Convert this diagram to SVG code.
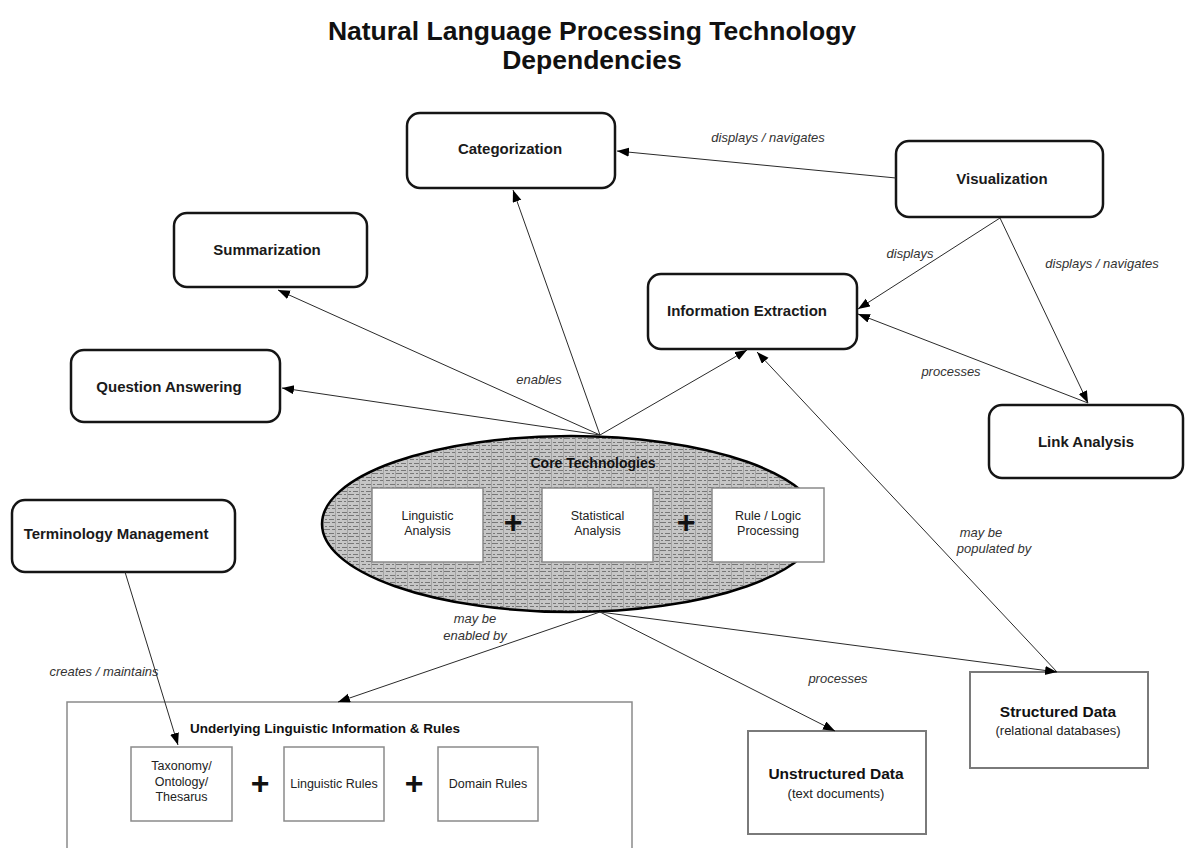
<svg xmlns="http://www.w3.org/2000/svg" width="1185" height="848" viewBox="0 0 1185 848">
<style>
.title{font-family:"Liberation Sans",Arial,sans-serif;font-weight:bold;font-size:26.5px;fill:#111;text-anchor:middle}
.node{fill:#fff;stroke:#151515;stroke-width:2.5}
.nl{font-family:"Liberation Sans",Arial,sans-serif;font-weight:bold;font-size:15px;fill:#1a1a1a;text-anchor:middle}
.box{fill:#fff;stroke:#7a7a7a;stroke-width:2}
.ibox{fill:#fff;stroke:#8a8a8a;stroke-width:1.5}
.it{font-family:"Liberation Sans",Arial,sans-serif;font-size:12.5px;fill:#222;text-anchor:middle}
.lbl{font-family:"Liberation Sans",Arial,sans-serif;font-style:italic;font-size:13px;fill:#333;text-anchor:middle}
.big{font-family:"Liberation Sans",Arial,sans-serif;font-weight:bold;font-size:15.5px;fill:#111;text-anchor:middle}
.sub{font-family:"Liberation Sans",Arial,sans-serif;font-size:13px;fill:#222;text-anchor:middle}
.plus{font-family:"Liberation Sans",Arial,sans-serif;font-weight:bold;font-size:32px;fill:#111;text-anchor:middle}
.conn path{fill:none;stroke:#2a2a2a;stroke-width:1;marker-end:url(#ah)}
</style>
<defs>
<marker id="ah" markerUnits="userSpaceOnUse" markerWidth="13" markerHeight="10" refX="12" refY="4.5" orient="auto">
<path d="M0,0 L12,4.5 L0,9 z" fill="#000"/>
</marker>
<pattern id="tex" width="24" height="7" patternUnits="userSpaceOnUse">
<rect width="24" height="7" fill="#c6c6c6"/>
<path d="M1,1.5h3M6,1.5h5M13,1.5h2M17,1.5h5M2,4.5h4M8,4.5h2M12,4.5h6M20,4.5h3" stroke="#777" stroke-width="1"/>
<path d="M11.5,0v7M23.5,0v7" stroke="#a4a4a4" stroke-width="1"/>
</pattern>
</defs>
<rect width="1185" height="848" fill="#fff"/>
<g id="title">
<text class="title" x="592" y="40">Natural Language Processing Technology</text>
<text class="title" x="592" y="69">Dependencies</text>
</g>
<g id="core">
<ellipse cx="571" cy="524" rx="249" ry="88" fill="url(#tex)" stroke="#000" stroke-width="2.5"/>
<text x="593" y="468" font-family="Liberation Sans, Arial, sans-serif" font-weight="bold" font-size="14px" fill="#111" text-anchor="middle">Core Technologies</text>
<rect class="ibox" x="372" y="488" width="111" height="74"/>
<text class="it" x="427.5" y="520">Linguistic</text>
<text class="it" x="427.5" y="535">Analysis</text>
<text class="plus" x="513" y="533">+</text>
<rect class="ibox" x="542" y="488" width="111" height="74"/>
<text class="it" x="597.5" y="520">Statistical</text>
<text class="it" x="597.5" y="535">Analysis</text>
<text class="plus" x="686" y="533">+</text>
<rect class="ibox" x="712" y="488" width="112" height="74"/>
<text class="it" x="768" y="520">Rule / Logic</text>
<text class="it" x="768" y="535">Processing</text>
</g>
<g id="categorization"><rect class="node" x="407" y="113" width="208" height="75" rx="13"/><text class="nl" x="510" y="154">Categorization</text></g>
<g id="visualization"><rect class="node" x="896" y="141" width="207" height="76" rx="13"/><text class="nl" x="1002" y="184">Visualization</text></g>
<g id="summarization"><rect class="node" x="174" y="213" width="193" height="74" rx="13"/><text class="nl" x="267" y="255">Summarization</text></g>
<g id="question-answering"><rect class="node" x="71" y="350" width="209" height="72" rx="13"/><text class="nl" x="169" y="392">Question Answering</text></g>
<g id="information-extraction"><rect class="node" x="648" y="274" width="209" height="75" rx="13"/><text class="nl" x="747" y="316">Information Extraction</text></g>
<g id="link-analysis"><rect class="node" x="989" y="405" width="194" height="73" rx="13"/><text class="nl" x="1086" y="447">Link Analysis</text></g>
<g id="terminology-management"><rect class="node" x="12" y="500" width="223" height="72" rx="13"/><text class="nl" x="116" y="539">Terminology Management</text></g>
<g id="underlying">
<rect x="67" y="702" width="565" height="170" fill="#fff" stroke="#8a8a8a" stroke-width="1.5"/>
<text x="325" y="733" font-family="Liberation Sans, Arial, sans-serif" font-weight="bold" font-size="13.5px" fill="#111" text-anchor="middle">Underlying Linguistic Information &amp; Rules</text>
<rect class="ibox" x="131" y="747" width="101" height="74"/>
<text class="it" x="181.5" y="770">Taxonomy/</text>
<text class="it" x="181.5" y="786">Ontology/</text>
<text class="it" x="181.5" y="801">Thesarus</text>
<text class="plus" x="260" y="794">+</text>
<rect class="ibox" x="284" y="747" width="100" height="74"/>
<text class="it" x="334" y="788">Linguistic Rules</text>
<text class="plus" x="414" y="794">+</text>
<rect class="ibox" x="438" y="747" width="100" height="74"/>
<text class="it" x="488" y="788">Domain Rules</text>
</g>
<g id="unstructured-data"><rect class="box" x="748" y="731" width="178" height="103"/><text class="big" x="836" y="779">Unstructured Data</text><text class="sub" x="836" y="798">(text documents)</text></g>
<g id="structured-data"><rect class="box" x="970" y="672" width="178" height="96"/><text class="big" x="1058" y="717">Structured Data</text><text class="sub" x="1058" y="735">(relational databases)</text></g>
<g id="connectors" class="conn">
<path d="M896,178 L617,151"/>
<path d="M1000,218 L858,309"/>
<path d="M1000,218 L1088,403"/>
<path d="M1088,403 L858,314"/>
<path d="M600,435 L513,190"/>
<path d="M600,435 L278,290"/>
<path d="M600,435 L282,388"/>
<path d="M600,435 L747,350"/>
<path d="M1057,672 L757,352"/>
<path d="M600,612 L338,702"/>
<path d="M600,612 L835,731"/>
<path d="M600,612 L1057,672"/>
<path d="M125,572 L178,745"/>
</g>
<g id="labels">
<text class="lbl" x="768" y="142">displays / navigates</text>
<text class="lbl" x="910" y="258">displays</text>
<text class="lbl" x="1102" y="268">displays / navigates</text>
<text class="lbl" x="951" y="376">processes</text>
<text class="lbl" x="539" y="384">enables</text>
<text class="lbl" x="981" y="537">may be</text>
<text class="lbl" x="994" y="553">populated by</text>
<text class="lbl" x="475" y="623">may be</text>
<text class="lbl" x="475" y="640">enabled by</text>
<text class="lbl" x="838" y="683">processes</text>
<text class="lbl" x="104" y="676">creates / maintains</text>
</g>
</svg>
